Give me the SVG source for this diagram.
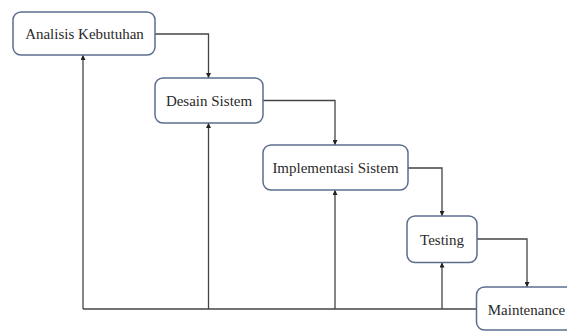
<svg xmlns="http://www.w3.org/2000/svg" width="567" height="332" viewBox="0 0 567 332">
  <style>
    .box { fill: #ffffff; stroke: #5b6d8e; stroke-width: 1.5; }
    .label { font-family: "Liberation Serif", "Times New Roman", serif; font-size: 15px; fill: #2a2a2a; text-anchor: middle; }
    .wire { fill: none; stroke: #444444; stroke-width: 1.3; }
  </style>
  <defs>
    <marker id="arrow" viewBox="0 0 10 10" refX="10" refY="5" markerWidth="5" markerHeight="5" orient="auto" markerUnits="userSpaceOnUse">
      <path d="M0,0 L10,5 L0,10 z" fill="#222222"/>
    </marker>
  </defs>

  <rect width="567" height="332" fill="#ffffff"/>

  <g id="connectors">
    <!-- forward flow -->
    <polyline class="wire" points="155,34 208.5,34 208.5,78" marker-end="url(#arrow)"/>
    <polyline class="wire" points="263,100.5 335,100.5 335,145" marker-end="url(#arrow)"/>
    <polyline class="wire" points="408,168 442,168 442,216" marker-end="url(#arrow)"/>
    <polyline class="wire" points="477,239 527,239 527,287" marker-end="url(#arrow)"/>
    <!-- feedback bus -->
    <line class="wire" x1="476" y1="309" x2="83" y2="309"/>
    <line class="wire" x1="83" y1="309" x2="83" y2="55" marker-end="url(#arrow)"/>
    <line class="wire" x1="208.5" y1="309" x2="208.5" y2="123" marker-end="url(#arrow)"/>
    <line class="wire" x1="335" y1="309" x2="335" y2="190" marker-end="url(#arrow)"/>
    <line class="wire" x1="442" y1="309" x2="442" y2="262.5" marker-end="url(#arrow)"/>
  </g>

  <g id="analisis-kebutuhan">
    <rect class="box" x="13" y="12" width="142" height="43" rx="8"/>
    <text class="label" x="84.5" y="39">Analisis Kebutuhan</text>
  </g>
  <g id="desain-sistem">
    <rect class="box" x="155" y="78" width="108" height="45" rx="8"/>
    <text class="label" x="209" y="106">Desain Sistem</text>
  </g>
  <g id="implementasi-sistem">
    <rect class="box" x="263" y="145" width="145" height="45" rx="8"/>
    <text class="label" x="335.5" y="173">Implementasi Sistem</text>
  </g>
  <g id="testing">
    <rect class="box" x="407" y="216" width="70" height="46.5" rx="8"/>
    <text class="label" x="442" y="245">Testing</text>
  </g>
  <g id="maintenance">
    <rect class="box" x="476.5" y="287" width="101" height="43" rx="8"/>
    <text class="label" x="526.5" y="315">Maintenance</text>
  </g>
</svg>
